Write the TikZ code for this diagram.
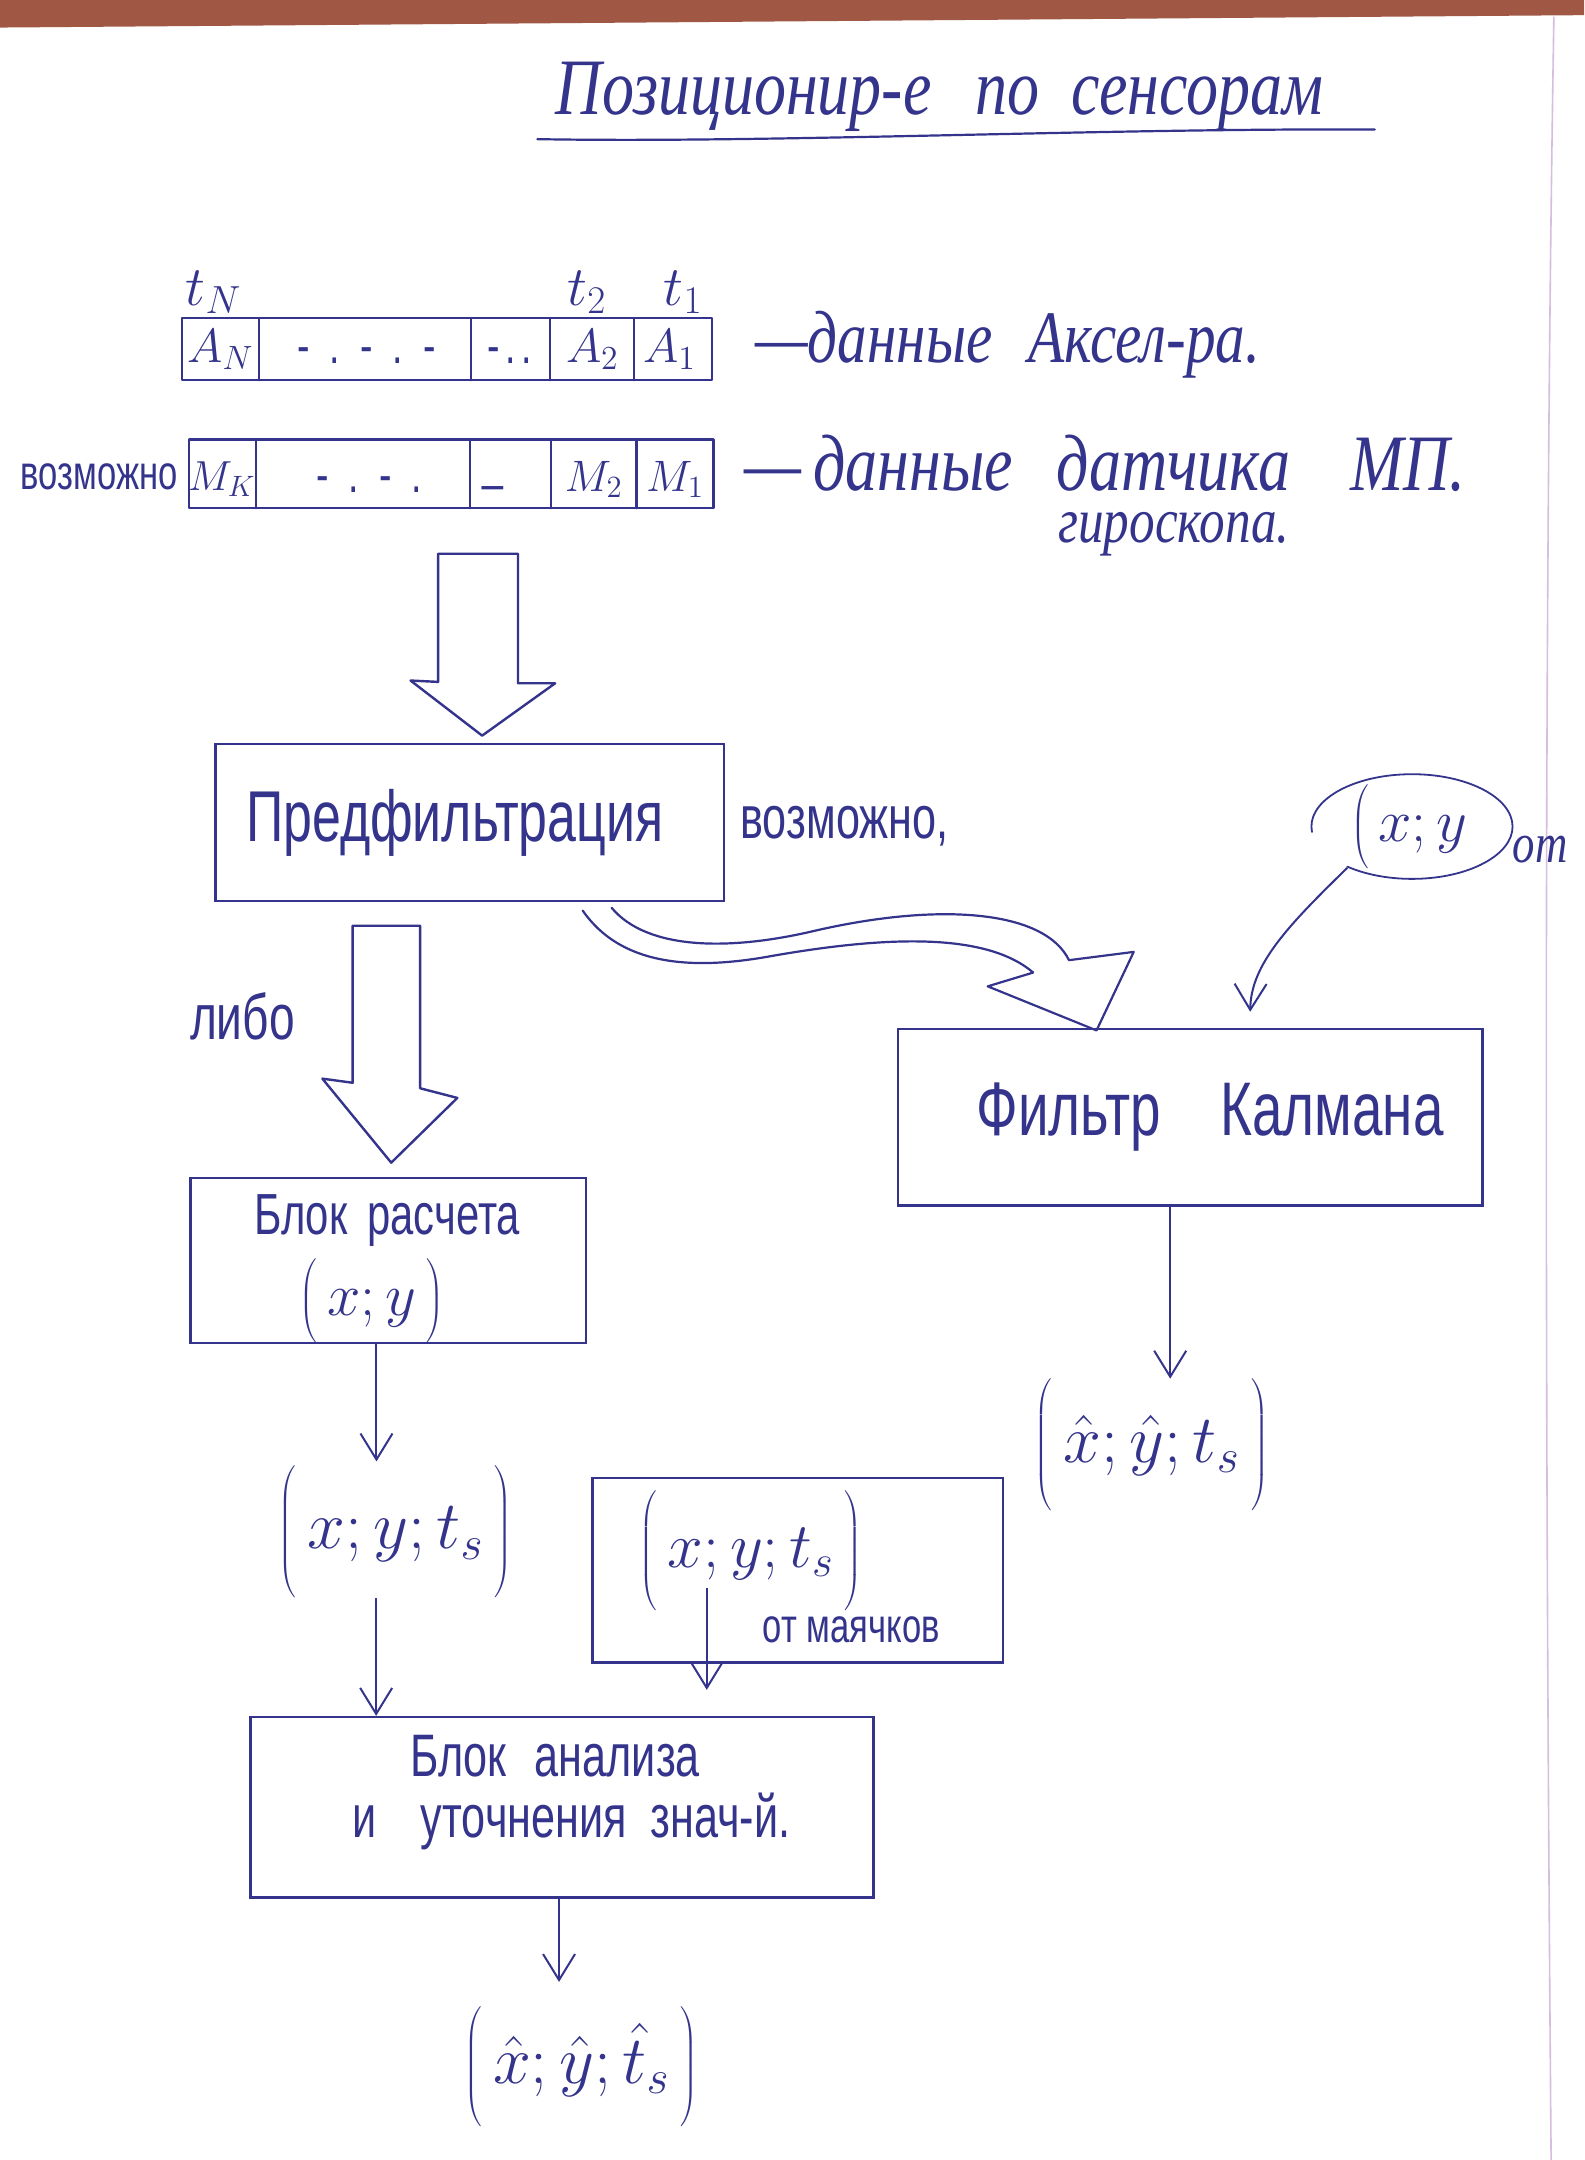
\RequirePackage{fix-cm}
\documentclass[tikz,border=0pt]{standalone}
\usepackage{fontspec}
\setmainfont{Liberation Sans}
\newfontfamily\hand{Liberation Sans}[FakeStretch=0.72]
\newfontfamily\cur{Liberation Serif}[FakeStretch=0.8]
\usetikzlibrary{arrows.meta}
\definecolor{ink}{RGB}{52,52,140}
\definecolor{desk}{RGB}{160,88,68}
\definecolor{margin}{RGB}{214,190,222}
\delimiterfactor=1000
\delimitershortfall=0pt
\newcommand\U{0.6887pt}
\newcommand\tall[1]{\vcenter{\hbox{\rule{0pt}{#1}}}}
\tikzset{
  pen/.style={draw=ink, line width=1.1pt, line cap=round, line join=round},
  boxn/.style={draw=ink, line width=1.3pt, inner sep=0pt, text=ink},
  conn/.style={draw=ink, line width=1pt, -{Straight Barb[length=13pt,width=16pt,line width=1pt]}},
  lbl/.style={text=ink, inner sep=0pt},
  hollow/.style={draw=ink, line width=1.2pt, line join=round, fill=white},
  hnd/.style={lbl, font=\hand\fontsize{#1}{#1}\selectfont},
  crs/.style={lbl, font=\cur\itshape\fontsize{#1}{#1}\selectfont},
  mth/.style={lbl, font=\fontsize{#1}{#1}\selectfont},
}
\begin{document}
\begin{tikzpicture}[x=0.6887pt,y=-0.6887pt]
\useasboundingbox (0,0) rectangle (1150,1568);
\fill[white] (0,0) rectangle (1150,1568);
\fill[desk] (0,0) -- (1150,0) -- (1150,11) -- (0,20) -- cycle;
\draw[margin, line width=0.8pt] (1128,12) .. controls (1120,500) and (1122,1100) .. (1126,1568);

% title
\node[crs=40] (title) at (682,70) {Позиционир-е\hspace{22pt}по\hspace{16pt}сенсорам};
\draw[pen] (390,101) .. controls (560,104) and (800,93) .. (998,94);

% time labels
\node[mth=28] (tN) at (155,212) {$t_N$};
\node[mth=28] (t2) at (426,212) {$t_2$};
\node[mth=28] (t1) at (496,212) {$t_1$};

% accelerometer array
\draw[pen] (132,231) rectangle (517,276);
\foreach \x in {188,342,399,460} \draw[pen] (\x,231) -- (\x,276);
\node[mth=24] (aN) at (160,254) {$A_N$};
\node[hnd=26] (ad1) at (266,258) {-\hspace{10pt}.\hspace{10pt}-\hspace{10pt}.\hspace{10pt}-};
\node[hnd=26] (ad2) at (370,258) {-\hspace{3pt}.\hspace{3pt}.};
\node[mth=24] (a2) at (430,254) {$A_2$};
\node[mth=24] (a1) at (486,254) {$A_1$};
\node[crs=37, anchor=west] (acctxt) at (548,250) {—данные\hspace{18pt}Аксел-ра.};

% magnetometer array
\node[hnd=24] (poss1) at (72,346) {возможно};
\draw[pen] (137,319) rectangle (518,369);
\foreach \x in {186,341,400,462} \draw[pen] (\x,319) -- (\x,369);
\node[mth=21] (mK) at (161,348) {$M_K$};
\node[hnd=26] (md1) at (268,352) {-\hspace{10pt}.\hspace{10pt}-\hspace{10pt}.};
\node[hnd=26] (md2) at (358,352) {\_};
\node[mth=22] (m2) at (431,348) {$M_2$};
\node[mth=22] (m1) at (490,348) {$M_1$};
\node[crs=40, anchor=west] (mptxt) at (540,336) {—\hspace{6pt}данные\hspace{22pt}датчика\hspace{30pt}МП.};
\node[crs=32, anchor=west] (gyro) at (768,388) {гироскопа.};

% big hollow arrow down
\draw[hollow] (318,402) -- (376,402) -- (376,496) -- (403,496) -- (350,534) -- (298,494) -- (318,495) -- cycle;

% prefilter
\node[boxn, minimum width=369*\U, minimum height=114*\U, font=\hand\fontsize{36}{40}\selectfont] (pre) at (341,597) {\hspace*{-15pt}Предфильтрация};
\node[hnd=30] (poss2) at (613,600) {возможно,};

% hollow arrow to calc
\draw[hollow] (256,672) -- (305,672) -- (305,790) -- (332,797) -- (284,844) -- (234,783) -- (256,786) -- cycle;
\node[hnd=32] (libo) at (176,738) {либо};

% curved hollow arrow to Kalman
\draw[pen] (423,661) .. controls (450,700) and (500,705) .. (560,694) .. controls (640,680) and (715,676) .. (750,706);
\draw[pen] (444,659) .. controls (470,690) and (530,690) .. (590,676) .. controls (680,655) and (758,660) .. (776,697);
\draw[pen, fill=white] (750,706) -- (717,716) -- (796,748) -- (823,691) -- (776,697);

% Kalman input
\draw[pen, line width=0.9pt] (1025,600) ++(174:73 and 38) arc[start angle=174, end angle=490, x radius=73, y radius=38];
\node[mth=30] (xyin) at (1024,600) {$\left(\tall{42pt}\,x;y\right.$};
\node[crs=28] (ot) at (1118,617) {от};
\coordinate (inS) at (978,630);

% Kalman
\node[boxn, minimum width=424*\U, minimum height=128*\U, font=\hand\fontsize{38}{40}\selectfont] (kal) at (864,811) {\hspace*{20pt}Фильтр\hspace{30pt}Калмана};
\draw[conn] (inS) .. controls (935,672) and (908,700) .. ([xshift=30pt,yshift=8pt]kal.north);

\node[mth=34] (kalout) at (836,1049) {$\left(\tall{65pt}\,\hat{x};\hat{y};t_s\,\right)$};
\draw[conn] ([xshift=-10pt]kal.south) -- ([xshift=-10pt]kal.south |- kalout.north);

% calc block
\node[boxn, minimum width=287*\U, minimum height=120*\U] (calc) at (282,915) {};
\node[hnd=29] (calct) at (281,886) {Блок\hspace{10pt}расчета};
\node[mth=30] (calcxy) at (270,944) {$\left(\tall{40pt}\,x;y\,\right)$};

\node[mth=34] (calcout) at (287,1112) {$\left(\tall{62pt}\,x;y;t_s\,\right)$};
\draw[conn] ([xshift=-6pt]calc.south) -- ([xshift=-6pt,yshift=2pt]calc.south |- calcout.north);

% beacons
\node[boxn, minimum width=298*\U, minimum height=134*\U] (bea) at (579,1140) {};
\node[mth=32] (beaxy) at (545,1126) {$\left(\tall{57pt}\,x;y;t_s\,\right)$};
\node[hnd=24] (beaot) at (618,1183) {от маячков};

% analysis
\node[boxn, minimum width=452*\U, minimum height=131*\U] (ana) at (408,1312) {};
\node[hnd=30] (anat1) at (403,1275) {Блок\hspace{14pt}анализа};
\node[hnd=30] (anat2) at (415,1322) {и\hspace{22pt}уточнения\hspace{12pt}знач-й.};

\draw[conn] ([xshift=-9.6pt]calcout.south) -- ([xshift=-9.6pt]calcout.south |- ana.north);
\draw[conn] ([xshift=-22pt,yshift=12pt]beaxy.south) -- ([xshift=-22pt,yshift=13pt]beaxy.south |- ana.north);

% final
\node[mth=34] (fin) at (422,1500) {$\left(\tall{60pt}\,\hat{x};\hat{y};\hat{t}_s\,\right)$};
\draw[conn] ([xshift=-1.5pt]ana.south) -- ([xshift=-1.5pt,yshift=12pt]ana.south |- fin.north);
\end{tikzpicture}
\end{document}
